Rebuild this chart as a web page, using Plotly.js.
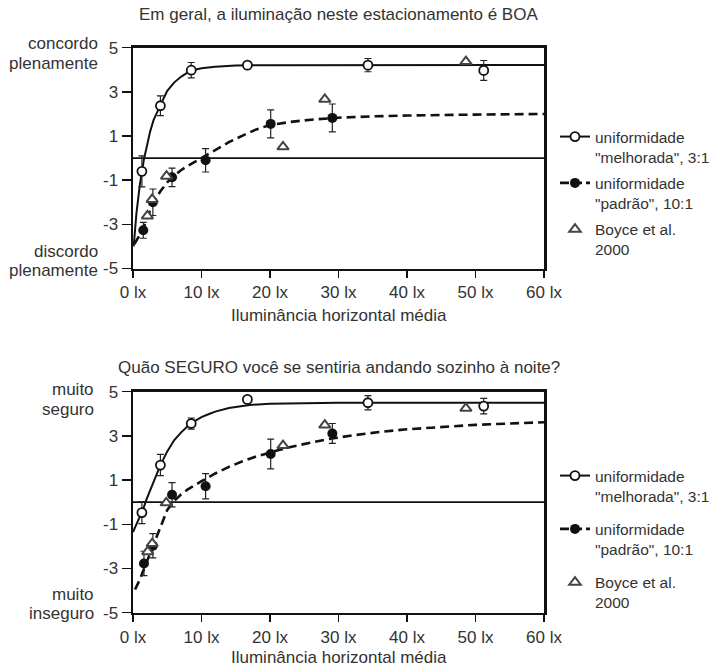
<!DOCTYPE html>
<html>
<head>
<meta charset="utf-8">
<script src="https://cdn.plot.ly/plotly-3.0.1.min.js"></script>
<style>html,body{margin:0;padding:0;background:#fff;}</style>
</head>
<body>
<div id="chart" style="width:718px;height:666px;"></div>
<script>
// ---------- ticks ----------
const xTickVals = [0, 10, 20, 30, 40, 50, 60];
const xTickText = ['0 lx', '10 lx', '20 lx', '30 lx', '40 lx', '50 lx', '60 lx'];
const yTickVals = [-5, -3, -1, 1, 3, 5];
const yTickText = ['-5', '-3', '-1', '1', '3', '5'];

// ---------- top panel: "Em geral, a iluminação neste estacionamento é BOA" ----------
const topOpenX = [1.3, 4.0, 8.5, 16.7, 34.3, 51.2];
const topOpenY = [-0.6, 2.37, 3.98, 4.21, 4.21, 3.97];
const topOpenErr = [0.7, 0.45, 0.35, 0.15, 0.3, 0.45];
const topFilledX = [1.5, 2.9, 5.7, 10.6, 20.1, 29.1];
const topFilledY = [-3.27, -2.0, -0.87, -0.1, 1.55, 1.82];
const topFilledErr = [0.36, 0.6, 0.42, 0.53, 0.63, 0.63];
const topBoyceX = [2.1, 2.8, 4.9, 21.9, 28.0, 48.6];
const topBoyceY = [-2.62, -1.87, -0.82, 0.51, 2.66, 4.37];
// fitted curves
const topSolidX = [0.1, 0.5, 1.0, 1.3, 1.6, 2.0, 2.5, 3.0, 3.5, 4.0, 5.0, 6.0, 7.0, 8.0, 9.0, 10, 12, 15, 20, 30, 60];
const topSolidY = [-4.0, -2.5, -1.2, -0.55, -0.05, 0.5, 1.2, 1.72, 2.1, 2.4, 3.05, 3.42, 3.68, 3.88, 4.0, 4.07, 4.14, 4.19, 4.21, 4.22, 4.22];
const topDashX = [0.2, 1.0, 1.5, 2.0, 3.0, 4.0, 5.0, 6.0, 7.0, 8.0, 9.0, 10, 12, 14, 16, 18, 20, 23, 26, 30, 35, 40, 50, 60];
const topDashY = [-3.9, -3.5, -3.2, -2.75, -2.0, -1.5, -1.1, -0.8, -0.55, -0.35, -0.17, -0.02, 0.35, 0.72, 1.02, 1.3, 1.5, 1.64, 1.74, 1.83, 1.89, 1.93, 1.97, 2.0];

// ---------- bottom panel: "Quão SEGURO você se sentiria andando sozinho à noite?" ----------
const botOpenX = [1.3, 4.0, 8.5, 16.7, 34.3, 51.2];
const botOpenY = [-0.47, 1.68, 3.56, 4.65, 4.5, 4.35];
const botOpenErr = [0.5, 0.48, 0.25, 0.12, 0.32, 0.35];
const botFilledX = [1.6, 2.9, 5.7, 10.6, 20.1, 29.1];
const botFilledY = [-2.77, -1.97, 0.34, 0.72, 2.18, 3.11];
const botFilledErr = [0.55, 0.55, 0.55, 0.57, 0.67, 0.45];
const botBoyceX = [2.15, 2.8, 4.85, 21.9, 28.0, 48.6];
const botBoyceY = [-2.24, -1.87, -0.03, 2.56, 3.49, 4.25];
const botSolidX = [0, 0.5, 1.0, 1.5, 2.0, 2.5, 3.0, 3.5, 4.0, 5.0, 6.0, 7.0, 8.0, 9.0, 10, 11, 12, 14, 17, 20, 25, 30, 60];
const botSolidY = [-1.35, -1.0, -0.7, -0.3, 0.15, 0.55, 0.95, 1.35, 1.68, 2.3, 2.8, 3.15, 3.45, 3.67, 3.85, 3.98, 4.1, 4.26, 4.4, 4.46, 4.49, 4.5, 4.5];
const botDashX = [0.3, 1.0, 1.5, 2.0, 2.5, 3.0, 3.5, 4.0, 5.0, 6.0, 7.0, 8.0, 9.0, 10, 12, 14, 16, 18, 20, 23, 26, 29, 32, 36, 40, 45, 50, 55, 60];
const botDashY = [-3.95, -3.5, -3.1, -2.7, -2.35, -1.95, -1.55, -1.15, -0.35, 0.05, 0.35, 0.58, 0.78, 0.95, 1.3, 1.6, 1.85, 2.07, 2.25, 2.5, 2.7, 2.88, 3.02, 3.18, 3.3, 3.41, 3.5, 3.56, 3.62];

// ---------- legend labels & titles ----------
const legendNames = ['uniformidade<br>"melhorada", 3:1', 'uniformidade<br>"padrão", 10:1', 'Boyce et al.<br>2000'];
const titles = ['Em geral, a iluminação neste estacionamento é BOA', 'Quão SEGURO você se sentiria andando sozinho à noite?'];
const xTitle = 'Iluminância horizontal média';
const sideLabels = [['concordo', 'plenamente', 'discordo', 'plenamente'], ['muito', 'seguro', 'muito', 'inseguro']];

const FONT = 'Liberation Sans, Arial, Helvetica, sans-serif';
const INK = '#111';
const TXT = '#333';

function errOpts(arr) {
  return {type: 'data', array: arr, visible: true, color: '#222', thickness: 1.2, width: 3.5};
}

function panelTraces(xa, ya, leg, d) {
  return [
    {x: d.solidX, y: d.solidY, xaxis: xa, yaxis: ya, mode: 'lines', line: {color: INK, width: 2}, showlegend: false, hoverinfo: 'skip'},
    {x: d.dashX, y: d.dashY, xaxis: xa, yaxis: ya, mode: 'lines', line: {color: INK, width: 2.6, dash: '9px,5px'}, showlegend: false, hoverinfo: 'skip'},
    {x: d.filledX, y: d.filledY, xaxis: xa, yaxis: ya, mode: 'markers', error_y: errOpts(d.filledErr),
      marker: {symbol: 'circle', size: 10, color: INK}, showlegend: false},
    {x: d.openX, y: d.openY, xaxis: xa, yaxis: ya, mode: 'markers', error_y: errOpts(d.openErr),
      marker: {symbol: 'circle', size: 9, color: 'white', line: {color: INK, width: 1.8}}, showlegend: false},
    {x: d.boyceX, y: d.boyceY, xaxis: xa, yaxis: ya, mode: 'markers',
      marker: {symbol: 'triangle-up', size: 10, color: 'white', line: {color: '#444', width: 2}}, showlegend: false},
    // legend entries
    {x: [null], y: [null], xaxis: xa, yaxis: ya, mode: 'lines+markers', name: legendNames[0], legend: leg, legendgroup: leg + 'a',
      line: {color: INK, width: 2}, marker: {symbol: 'circle', size: 9, color: 'white', line: {color: INK, width: 1.8}}},
    {x: [null], y: [null], xaxis: xa, yaxis: ya, mode: 'lines+markers', name: legendNames[1], legend: leg, legendgroup: leg + 'b',
      line: {color: INK, width: 2.6, dash: '9px,4px'}, marker: {symbol: 'circle', size: 10, color: INK}},
    {x: [null], y: [null], xaxis: xa, yaxis: ya, mode: 'markers', name: legendNames[2], legend: leg, legendgroup: leg + 'c',
      marker: {symbol: 'triangle-up', size: 10, color: 'white', line: {color: '#444', width: 2}}}
  ];
}

const traces = [].concat(
  panelTraces('x', 'y', 'legend', {
    solidX: topSolidX, solidY: topSolidY, dashX: topDashX, dashY: topDashY,
    filledX: topFilledX, filledY: topFilledY, filledErr: topFilledErr,
    openX: topOpenX, openY: topOpenY, openErr: topOpenErr,
    boyceX: topBoyceX, boyceY: topBoyceY
  }),
  panelTraces('x2', 'y2', 'legend2', {
    solidX: botSolidX, solidY: botSolidY, dashX: botDashX, dashY: botDashY,
    filledX: botFilledX, filledY: botFilledY, filledErr: botFilledErr,
    openX: botOpenX, openY: botOpenY, openErr: botOpenErr,
    boyceX: botBoyceX, boyceY: botBoyceY
  })
);

const W = 718, H = 666;
const px = v => v / W;
const py = v => 1 - v / H;
const xDomain = [px(133), px(544)];

function xAxis(anchor) {
  return {
    domain: xDomain, anchor: anchor, range: [0, 60], tickmode: 'array', tickvals: xTickVals, ticktext: xTickText,
    ticks: 'outside', ticklen: 7, tickwidth: 1.5, tickcolor: INK, showline: true, linewidth: 2.5, linecolor: INK,
    mirror: true, showgrid: false, zeroline: false, tickfont: {family: FONT, size: 17, color: TXT}, fixedrange: true
  };
}
function yAxis(anchor, dom) {
  return {
    domain: dom, anchor: anchor, range: [-5, 5], tickmode: 'array', tickvals: yTickVals, ticktext: yTickText,
    ticks: 'outside', ticklen: 9, tickwidth: 1.5, tickcolor: INK, showline: true, linewidth: 2.5, linecolor: INK,
    mirror: true, showgrid: false, zeroline: false, tickfont: {family: FONT, size: 17, color: TXT}, fixedrange: true
  };
}

function ann(text, x, y, xanchor, size) {
  return {text: text, x: px(x), y: py(y), xref: 'paper', yref: 'paper', xanchor: xanchor, yanchor: 'middle',
    showarrow: false, font: {family: FONT, size: size, color: TXT}};
}

const annotations = [
  ann(titles[0], 338.5, 15, 'center', 17),
  ann(titles[1], 338.5, 367, 'center', 17),
  ann(xTitle, 338.5, 315, 'center', 17),
  ann(xTitle, 338.5, 657, 'center', 17),
  ann(sideLabels[0][0], 100, 44, 'right', 17),
  ann(sideLabels[0][1], 100, 63, 'right', 17),
  ann(sideLabels[0][2], 100, 251, 'right', 17),
  ann(sideLabels[0][3], 100, 270, 'right', 17),
  ann(sideLabels[1][0], 96, 389, 'right', 17),
  ann(sideLabels[1][1], 96, 409, 'right', 17),
  ann(sideLabels[1][2], 96, 594, 'right', 17),
  ann(sideLabels[1][3], 96, 613, 'right', 17)
];

const shapes = [
  {type: 'line', xref: 'x', yref: 'y', x0: 0, x1: 60, y0: 0, y1: 0, line: {color: INK, width: 1.8}, layer: 'below'},
  {type: 'line', xref: 'x2', yref: 'y2', x0: 0, x1: 60, y0: 0, y1: 0, line: {color: INK, width: 1.8}, layer: 'below'}
];

const legendBase = {
  xanchor: 'left', yanchor: 'top', traceorder: 'grouped', valign: 'top',
  font: {family: FONT, size: 15.5, color: TXT}, bgcolor: 'rgba(0,0,0,0)', borderwidth: 0, itemclick: false, itemdoubleclick: false
};

const layout = {
  width: W, height: H, margin: {l: 0, r: 0, t: 0, b: 0, pad: 0},
  paper_bgcolor: 'white', plot_bgcolor: 'white', showlegend: true,
  font: {family: FONT, color: TXT},
  xaxis: xAxis('y'), yaxis: yAxis('x', [py(268.5), py(47.7)]),
  xaxis2: xAxis('y2'), yaxis2: yAxis('x2', [py(612.7), py(391.7)]),
  legend: Object.assign({x: px(555), y: py(120), tracegroupgap: 3}, legendBase),
  legend2: Object.assign({x: px(555), y: py(459), tracegroupgap: 10}, legendBase),
  annotations: annotations, shapes: shapes
};

Plotly.newPlot('chart', traces, layout, {staticPlot: true, displayModeBar: false});
</script>
</body>
</html>
